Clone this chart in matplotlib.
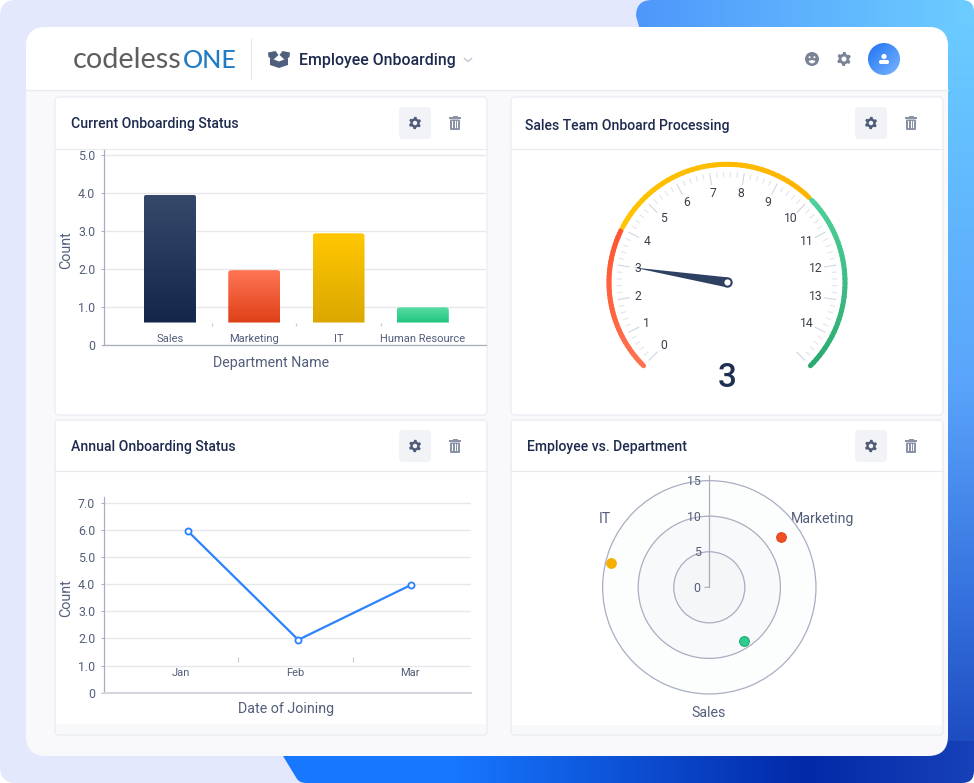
import numpy as np
import matplotlib
matplotlib.use('Agg')
import matplotlib.pyplot as plt
from matplotlib.patches import FancyBboxPatch, PathPatch, Circle, Rectangle, Polygon, Wedge
from matplotlib.path import Path
from matplotlib.colors import to_rgb, LinearSegmentedColormap

W, H = 974, 783
plt.rcParams['font.family'] = ['Roboto', 'DejaVu Sans']

# bar chart
departments = ['Sales', 'Marketing', 'IT', 'Human Resource']
dept_counts = [3.97, 1.98, 2.95, 1.0]
bar_grads = [('#36486A', '#14274B'), ('#FF7654', '#DE4018'), ('#FFC700', '#DBA800'), ('#58DCA2', '#1FC57F')]
bar_ticks = [0, 1, 2, 3, 4, 5]

# line chart
months = ['Jan', 'Feb', 'Mar']
month_x = [0.06, 1.025, 2.01]
month_counts = [5.97, 1.95, 3.98]
line_ticks = [0, 1, 2, 3, 4, 5, 6, 7]

# gauge
gauge_value = 3
gauge_nums = list(range(15))
gauge_bands = [(0.0, 3.95, '#FF7350', '#FF5530'), (4.05, 9.95, '#FFC400', '#FFB400'), (10.05, 15.0, '#4FD19B', '#2BAA70')]

# radar
radar_angles = [54.7, 284.0, 147.0]
radar_values = [12.3, 14.2, 9.05]
radar_colors = ['#F04E23', '#F8B000', '#2ECC8F']
radar_edges = ['#E0421C', '#F4AE00', '#0EA56B']
radar_rings = [5, 10, 15]

TXT = '#1E2B4F'
AXT = '#535E7A'
SPINE = '#A9AEBD'
GRID = '#E6E8EC'
BORDER = '#E8EAF0'


def px_axes(l, t, r, b, **kw):
    return fig.add_axes([l / W, 1 - b / H, (r - l) / W, (b - t) / H], **kw)


def rounded(x0, y0, x1, y1, r, **kw):
    return FancyBboxPatch((x0, y0), x1 - x0, y1 - y0, boxstyle='round,pad=0,rounding_size=%s' % r, **kw)


def draw_gear(a, cx, cy, r, color, hole):
    ang = np.linspace(0, 2 * np.pi, 48, endpoint=False) + np.pi / 8
    rad = np.where((np.arange(48) % 8) < 4, r, r * 0.76)
    a.add_patch(Polygon(np.c_[cx + rad * np.cos(ang), cy + rad * np.sin(ang)], fc=color, ec='none', zorder=5))
    a.add_patch(Circle((cx, cy), r * 0.36, fc=hole, ec='none', zorder=6))


def draw_trash(a, cx, cy):
    c = '#8A93A6'
    a.add_patch(Rectangle((cx - 6, cy - 6), 12, 1.6, fc=c, ec='none', zorder=5))
    a.add_patch(Rectangle((cx - 2.5, cy - 7.5), 5, 1.6, fc=c, ec='none', zorder=5))
    a.add_patch(rounded(cx - 5, cy - 3.5, cx + 5, cy + 7, 1, fc=c, ec='none', zorder=5))
    for dx in (-2.5, 0, 2.5):
        a.add_patch(Rectangle((cx + dx - 0.5, cy - 1.7), 1, 7, fc='white', ec='none', zorder=6))


def draw_card(a, x0, y0, x1, y1, head, white_to=None):
    a.add_patch(rounded(x0, y0, x1, y1, 4, fc='#F8F9FB' if white_to else 'white', ec=BORDER, lw=0.8, zorder=2))
    if white_to:
        a.add_patch(Rectangle((x0 + 1, y0 + 1), x1 - x0 - 2, white_to - y0 - 1, fc='white', ec='none', zorder=2))
    a.plot([x0, x1], [head, head], color=BORDER, lw=0.8, zorder=3)
    gx = x1 - 72
    a.add_patch(rounded(gx - 16, y0 + 10, gx + 16, y0 + 42, 4, fc='#F1F3F7', ec='none', zorder=3))
    draw_gear(a, gx, y0 + 26, 6.2, '#4F5B78', '#F1F3F7')
    draw_trash(a, gx + 40, y0 + 26)


def blend(c0, c1, n):
    a, b = np.array(to_rgb(c0)), np.array(to_rgb(c1))
    return [a + (b - a) * t for t in np.linspace(0, 1, n)]


fig = plt.figure(figsize=(W / 100, H / 100), dpi=100, facecolor='white')

# page background, header and cards, all in pixel coordinates
bg = fig.add_axes([0, 0, 1, 1], zorder=0)
bg.set_xlim(0, W)
bg.set_ylim(H, 0)
bg.axis('off')

bg.add_patch(rounded(0, 0, 900, H, 16, fc='#E3E8FD', ec='none', zorder=0))

# blue blob behind the panel
blob = Path([(652, 0), (962, 0), (974, 0), (974, 12), (974, 771), (974, 783), (962, 783), (306, 783), (300, 783),
             (297, 779), (283, 756), (283, 400), (640, 30), (636, 16), (636, 0), (652, 0)],
            [Path.MOVETO, Path.LINETO, Path.CURVE3, Path.CURVE3, Path.LINETO, Path.CURVE3, Path.CURVE3, Path.LINETO,
             Path.CURVE3, Path.CURVE3, Path.LINETO, Path.LINETO, Path.LINETO, Path.LINETO, Path.CURVE3, Path.CURVE3])
stops = [0, 338, 438, 718, 938, 1121, 1291, 1640]
stop_cols = np.array([to_rgb(c) for c in ['#4E97FB', '#6DCDFF', '#65C3FF', '#5AA5FB', '#3571DE', '#1741B8', '#0229A8', '#1777FF']])
yy, xx = np.mgrid[0:H, 0:W]
s = np.where(yy < 27, xx - 636.0, np.where(yy > 740, 338.0 + 783 + (974.0 - xx), 338.0 + yy))
rgb = np.dstack([np.interp(s, stops, stop_cols[:, i]) for i in range(3)])
im = bg.imshow(rgb, extent=(0, W, H, 0), aspect='auto', zorder=1)
bp = PathPatch(blob, transform=bg.transData, fc='none', ec='none')
bg.add_patch(bp)
im.set_clip_path(bp)

panel = rounded(26, 27, 948, 756, 20, fc='#F9F9FC', ec='none', zorder=1.5)
bg.add_patch(panel)
head = Rectangle((26, 27), 922, 63, fc='white', ec='none', zorder=1.6)
bg.add_patch(head)
head.set_clip_path(panel)
bg.plot([26, 948], [90, 90], color=BORDER, lw=0.9, zorder=1.7)
bg.plot([250.5, 250.5], [39, 79], color=BORDER, lw=0.9, zorder=1.7)

# logo
bg.text(73, 60, 'codeless', color='#5E5E5E', fontsize=20.8, family='Lato', va='center', ha='left', zorder=5)
bg.text(183, 60, 'ONE', color='#1F7BC4', fontsize=18, family='Lato', weight='medium', va='center', ha='left', zorder=5)

# box icon
box_c = '#4F5F7D'
bg.add_patch(Polygon([(270, 58), (279, 61.5), (288, 58), (288, 65), (279, 68), (270, 65)], fc=box_c, ec='none', zorder=5))
bg.add_patch(Polygon([(268, 52.5), (275.5, 51), (278.5, 55), (273, 60), (268.5, 57)], fc=box_c, ec='none', zorder=5))
bg.add_patch(Polygon([(290, 52.5), (282.5, 51), (279.5, 55), (285, 60), (289.5, 57)], fc=box_c, ec='none', zorder=5))

bg.text(299, 60, 'Employee Onboarding', color=TXT, fontsize=11.45, weight='medium', va='center', ha='left', zorder=5)
bg.plot([464.5, 468, 471.5], [58.5, 61.5, 58.5], color='#C6CAD3', lw=1.1, zorder=5)

# header right icons
icon_c = '#7B8497'
bg.add_patch(Circle((812, 59), 7, fc=icon_c, ec='none', zorder=5))
bg.add_patch(Circle((809.6, 57.2), 1.0, fc='white', ec='none', zorder=6))
bg.add_patch(Circle((814.4, 57.2), 1.0, fc='white', ec='none', zorder=6))
bg.add_patch(Wedge((812, 60), 3.4, 15, 165, fc='white', ec='none', zorder=6))
draw_gear(bg, 844, 59, 7, icon_c, 'white')

av = np.linspace(0, 1, 64)
av_img = np.dstack([np.interp((av[None, :] + av[:, None]) / 2, [0, 1], [to_rgb('#1F72F2')[i], to_rgb('#78B6FF')[i]]) for i in range(3)])
av_im = bg.imshow(av_img, extent=(868, 900, 75, 43), aspect='auto', zorder=5)
av_c = Circle((884, 59), 16, transform=bg.transData, fc='none', ec='none')
bg.add_patch(av_c)
av_im.set_clip_path(av_c)
bg.add_patch(Circle((884, 56.5), 2.6, fc='white', ec='none', zorder=6))
bg.add_patch(rounded(879, 60, 889, 64, 1.8, fc='white', ec='none', zorder=6))

# cards
draw_card(bg, 55, 97, 487, 415, 148.5)
draw_card(bg, 511, 97, 943, 415, 148.5)
draw_card(bg, 55, 420, 487, 735, 471, white_to=724)
draw_card(bg, 511, 420, 943, 735, 471, white_to=725)

for x, y, title in [(71, 124, 'Current Onboarding Status'), (525, 126, 'Sales Team Onboard Processing'),
                    (71, 447, 'Annual Onboarding Status'), (527, 447, 'Employee vs. Department')]:
    bg.text(x, y, title, color=TXT, fontsize=10.1, weight='medium', va='center', ha='left', zorder=5)

bg.set_xlim(0, W)
bg.set_ylim(H, 0)


def style_axes(ax, ticks, bottom_col, bottom_lw):
    ax.patch.set_visible(False)
    ax.spines['top'].set_visible(False)
    ax.spines['right'].set_visible(False)
    ax.spines['left'].set_color(SPINE)
    ax.spines['left'].set_linewidth(0.9)
    ax.spines['bottom'].set_color(bottom_col)
    ax.spines['bottom'].set_linewidth(bottom_lw)
    ax.set_yticks(ticks)
    ax.set_yticklabels(['0' if t == 0 else '%.1f' % t for t in ticks], color=AXT, fontsize=8.9)
    ax.tick_params(axis='y', length=2, width=0.7, color=SPINE, pad=4)
    ax.set_xticks([])
    ax.grid(axis='y', color=GRID, lw=1.0)
    ax.set_axisbelow(True)


# bar chart
ax1 = px_axes(103.5, 149.5, 486, 345.3, zorder=3)
ax1.set_xlim(-0.789, 3.75)
ax1.set_ylim(0, 5.158)
style_axes(ax1, bar_ticks, SPINE, 0.9)
bars = ax1.bar(range(4), np.array(dept_counts) - 0.6, bottom=0.6, width=0.617, color='none', edgecolor='none')
for rect, grad in zip(bars, bar_grads):
    x0, y0 = rect.get_x(), rect.get_y()
    x1, y1 = x0 + rect.get_width(), y0 + rect.get_height()
    rx, ry = 0.04, 0.07
    clip = Path([(x0, y0), (x0, y1 - ry), (x0, y1), (x0 + rx, y1), (x1 - rx, y1), (x1, y1), (x1, y1 - ry), (x1, y0), (x0, y0)],
                [Path.MOVETO, Path.LINETO, Path.CURVE3, Path.CURVE3, Path.LINETO, Path.CURVE3, Path.CURVE3, Path.LINETO, Path.CLOSEPOLY])
    pp = PathPatch(clip, transform=ax1.transData, fc='none', ec='none')
    ax1.add_patch(pp)
    cmap = LinearSegmentedColormap.from_list('g', grad)
    img = ax1.imshow(np.linspace(0, 1, 64)[:, None], cmap=cmap, extent=(x0, x1, y0, y1), origin='upper', aspect='auto', zorder=3)
    img.set_clip_path(pp)
ax1.set_xlim(-0.789, 3.75)
ax1.set_ylim(0, 5.158)
ax1.vlines([0.5, 1.5, 2.5], 0.5, 0.6, color='#C9CCD6', lw=0.9)
for i, name in enumerate(departments):
    ax1.text(i, 0.16, name, color=AXT, fontsize=8.0, ha='center', va='center')
bg.text(66, 250.5, 'Count', color=AXT, fontsize=10.3, rotation=90, ha='center', va='center', zorder=5)
bg.text(271, 363, 'Department Name', color=AXT, fontsize=10.3, ha='center', va='center', zorder=5)

# line chart
ax2 = px_axes(103.5, 496.7, 471, 692.7, zorder=3)
ax2.set_xlim((103.5 - 180.7) / 114.7, (471 - 180.7) / 114.7)
ax2.set_ylim(0, 7.23)
style_axes(ax2, line_ticks, '#D3D6DF', 1.5)
ax2.plot(month_x, month_counts, color='#2B82FF', lw=1.6, marker='o', ms=4.4, mfc='white', mec='#2B82FF', mew=1.3, zorder=4, clip_on=False)
ax2.vlines([0.5, 1.5], 1.15, 1.3, color='#C9CCD6', lw=0.9)
for i, name in enumerate(months):
    ax2.text(i, 0.73, name, color=AXT, fontsize=8.0, ha='center', va='center')
bg.text(66, 598, 'Count', color=AXT, fontsize=10.3, rotation=90, ha='center', va='center', zorder=5)
bg.text(286, 709.5, 'Date of Joining', color=AXT, fontsize=10.3, ha='center', va='center', zorder=5)

# gauge, r is in pixels
G = 130
ax3 = px_axes(727 - G, 282.3 - G, 727 + G, 282.3 + G, projection='polar', zorder=3)
ax3.set_theta_offset(np.deg2rad(225))
ax3.set_theta_direction(-1)
ax3.set_rlim(0, G)
ax3.axis('off')
deg = np.pi / 180 * 18
for v in np.arange(0, 15.01, 0.2):
    major = abs(v - round(v)) < 1e-6
    ax3.plot([v * deg, v * deg], [99 if major else 105.5, 110], color='#D3D6E0' if major else '#E3E5EB', lw=0.8, zorder=1)
for lo, hi, c0, c1 in gauge_bands:
    vals = np.linspace(lo, hi, 41)
    for a, b, col in zip(vals[:-1], vals[1:], blend(c0, c1, 40)):
        ax3.plot([a * deg, b * deg], [118, 118], color=col, lw=3.6, solid_capstyle='round', zorder=2)
for n in gauge_nums:
    ax3.text(n * deg, 90, str(n), color='#3A3F4B', fontsize=8.7, ha='center', va='center', zorder=2)
th = gauge_value * deg
ax3.fill([th, th + np.pi / 2, th - np.pi / 2], [95, 5, 5], color='#2E4163', ec='none', zorder=4)
ax3.plot([0], [0], marker='o', ms=6, mfc='white', mec='#2E4163', mew=1.5, zorder=5, clip_on=False)
bg.text(727, 378, str(gauge_value), color='#1E2F52', fontsize=24, weight='medium', ha='center', va='center', zorder=5)

# radar
R = 112
ax4 = px_axes(709.3 - R, 587.3 - R, 709.3 + R, 587.3 + R, projection='polar', zorder=3)
ax4.set_theta_zero_location('N')
ax4.set_theta_direction(-1)
ax4.patch.set_visible(False)
ax4.spines['polar'].set_visible(False)
ax4.set_rlim(0, 15.75)
ax4.set_xticks([])
ax4.set_yticks(radar_rings)
ax4.set_yticklabels([])
ax4.tick_params(length=0)
ax4.grid(axis='y', color='#A9AEC2', lw=0.9)
circ = np.linspace(0, 2 * np.pi, 240)
for ring, col in zip(radar_rings[::-1], ['#FCFDFD', '#F8F9FA', '#F5F6F8']):
    ax4.fill(circ, np.full(240, ring), color=col, ec='none', zorder=0.5)
ax4.plot([0, 0], [0, 15.75], color=SPINE, lw=0.9, zorder=2)
ax4.annotate('', xy=(0, 0), xytext=(-3.2, 0), textcoords='offset points', arrowprops=dict(arrowstyle='-', color=SPINE, lw=0.8, shrinkA=0, shrinkB=0))
for t in [0] + radar_rings:
    ax4.annotate(str(t), xy=(0, t), xytext=(-6.2, -0.7), textcoords='offset points', ha='right', va='center', color=AXT, fontsize=8.9, zorder=3)
for a, v, c, e in zip(radar_angles, radar_values, radar_colors, radar_edges):
    ax4.plot(np.deg2rad(a), v, 'o', ms=7, mfc=c, mec=e, mew=0.7, zorder=4)
for x, y, name in [(605, 519, 'IT'), (823, 519, 'Marketing'), (708.5, 713, 'Sales')]:
    bg.text(x, y, name, color=AXT, fontsize=10.2, ha='center', va='center', zorder=5)

fig.savefig('out.png', dpi=100)
